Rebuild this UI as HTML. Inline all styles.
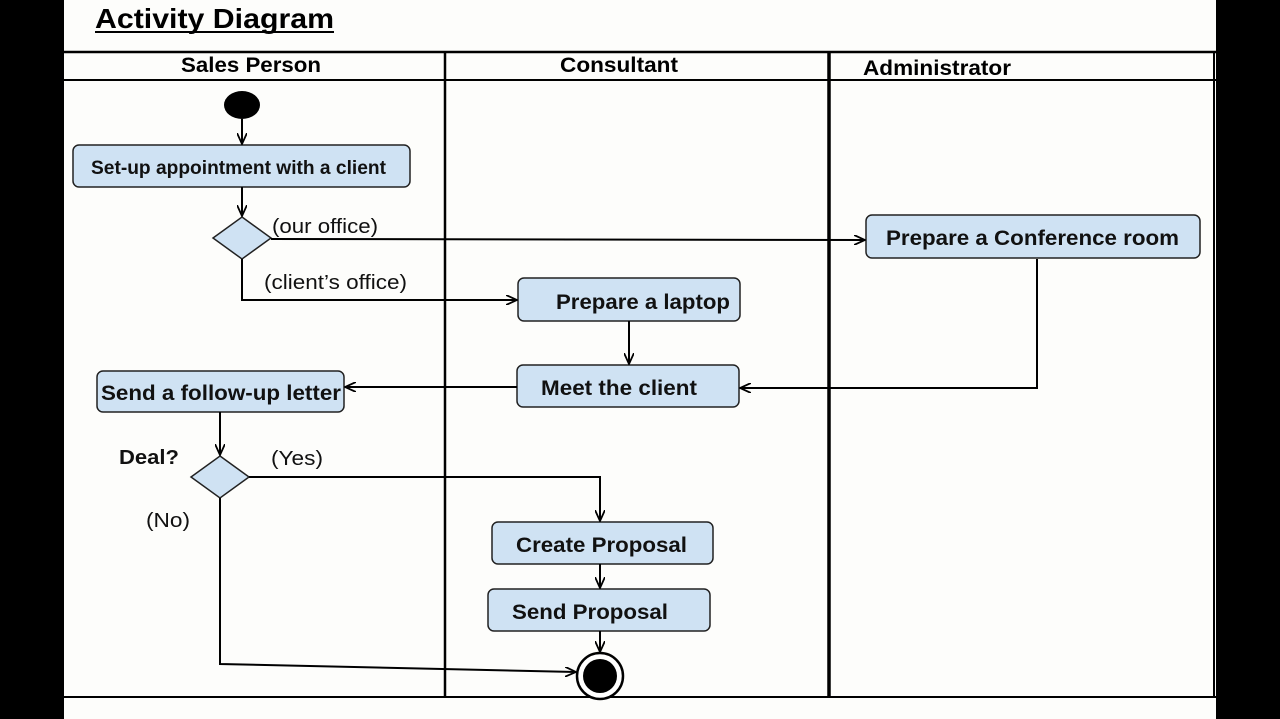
<!DOCTYPE html>
<html><head><meta charset="utf-8"><style>
html,body{margin:0;padding:0;background:#000;}
svg{display:block;font-family:"Liberation Sans",Arial,sans-serif;}
</style></head><body>
<svg width="1280" height="719" viewBox="0 0 1280 719" xmlns="http://www.w3.org/2000/svg">
<defs>
<marker id="a" markerWidth="12" markerHeight="10" refX="11" refY="5" orient="auto" markerUnits="userSpaceOnUse">
<path d="M0,0 L11,5 L0,10" fill="none" stroke="#000" stroke-width="1.8"/>
</marker>
</defs>
<rect x="64" y="0" width="1152" height="719" fill="#fdfdfb"/>
<text x="95" y="28" font-size="28" font-weight="bold" textLength="239" lengthAdjust="spacingAndGlyphs">Activity Diagram</text>
<line x1="95" y1="32" x2="334" y2="32" stroke="#000" stroke-width="2"/>
<!-- lanes -->
<line x1="64" y1="52" x2="1216" y2="52" stroke="#000" stroke-width="2.5"/>
<line x1="64" y1="80" x2="1216" y2="80" stroke="#000" stroke-width="2"/>
<line x1="64" y1="697" x2="1216" y2="697" stroke="#000" stroke-width="2"/>
<line x1="445" y1="52" x2="445" y2="697" stroke="#000" stroke-width="2.5"/>
<line x1="829" y1="52" x2="829" y2="697" stroke="#000" stroke-width="3.5"/>
<line x1="1214" y1="52" x2="1214" y2="697" stroke="#000" stroke-width="2"/>
<g font-size="21" font-weight="bold" lengthAdjust="spacingAndGlyphs">
<text x="181" y="72" textLength="140" lengthAdjust="spacingAndGlyphs">Sales Person</text>
<text x="560" y="72" textLength="118" lengthAdjust="spacingAndGlyphs">Consultant</text>
<text x="863" y="75" textLength="148" lengthAdjust="spacingAndGlyphs">Administrator</text>
</g>
<!-- nodes -->
<ellipse cx="242" cy="105" rx="18" ry="14" fill="#000"/>
<g fill="#cfe2f3" stroke="#222" stroke-width="1.5">
<rect x="73" y="145" width="337" height="42" rx="6"/>
<rect x="866" y="215" width="334" height="43" rx="6"/>
<rect x="518" y="278" width="222" height="43" rx="6"/>
<rect x="517" y="365" width="222" height="42" rx="6"/>
<rect x="97" y="371" width="247" height="41" rx="6"/>
<rect x="492" y="522" width="221" height="42" rx="6"/>
<rect x="488" y="589" width="222" height="42" rx="6"/>
<polygon points="242,217 271,238 242,259 213,238"/>
<polygon points="220,456 249,477 220,498 191,477"/>
</g>
<circle cx="600" cy="676" r="23" fill="#fff" stroke="#000" stroke-width="2.5"/>
<circle cx="600" cy="676" r="17" fill="#000"/>
<g font-weight="bold" fill="#111">
<text x="91" y="174" font-size="19" textLength="295" lengthAdjust="spacingAndGlyphs">Set-up appointment with a client</text>
<text x="886" y="245" font-size="21" textLength="293" lengthAdjust="spacingAndGlyphs">Prepare a Conference room</text>
<text x="556" y="309" font-size="21" textLength="174" lengthAdjust="spacingAndGlyphs">Prepare a laptop</text>
<text x="541" y="395" font-size="21" textLength="156" lengthAdjust="spacingAndGlyphs">Meet the client</text>
<text x="101" y="400" font-size="21" textLength="240" lengthAdjust="spacingAndGlyphs">Send a follow-up letter</text>
<text x="516" y="552" font-size="21" textLength="171" lengthAdjust="spacingAndGlyphs">Create Proposal</text>
<text x="512" y="619" font-size="21" textLength="156" lengthAdjust="spacingAndGlyphs">Send Proposal</text>
<text x="119" y="464" font-size="20" textLength="60" lengthAdjust="spacingAndGlyphs">Deal?</text>
</g>
<g font-size="20" fill="#111">
<text x="272" y="233" textLength="106" lengthAdjust="spacingAndGlyphs">(our office)</text>
<text x="264" y="289" textLength="143" lengthAdjust="spacingAndGlyphs">(client’s office)</text>
<text x="271" y="465" textLength="52" lengthAdjust="spacingAndGlyphs">(Yes)</text>
<text x="146" y="527" textLength="44" lengthAdjust="spacingAndGlyphs">(No)</text>
</g>
<!-- edges -->
<g stroke="#000" stroke-width="2" fill="none" marker-end="url(#a)">
<line x1="242" y1="119" x2="242" y2="144"/>
<line x1="242" y1="187" x2="242" y2="216"/>
<line x1="271" y1="239" x2="865" y2="240"/>
<polyline points="242,259 242,300 517,300"/>
<line x1="629" y1="321" x2="629" y2="364"/>
<polyline points="1037,259 1037,388 740,388"/>
<line x1="517" y1="387" x2="345" y2="387"/>
<line x1="220" y1="412" x2="220" y2="455"/>
<polyline points="249,477 600,477 600,521"/>
<line x1="600" y1="564" x2="600" y2="588"/>
<line x1="600" y1="631" x2="600" y2="652"/>
<polyline points="220,498 220,664 576,672"/>
</g>
</svg>
</body></html>
